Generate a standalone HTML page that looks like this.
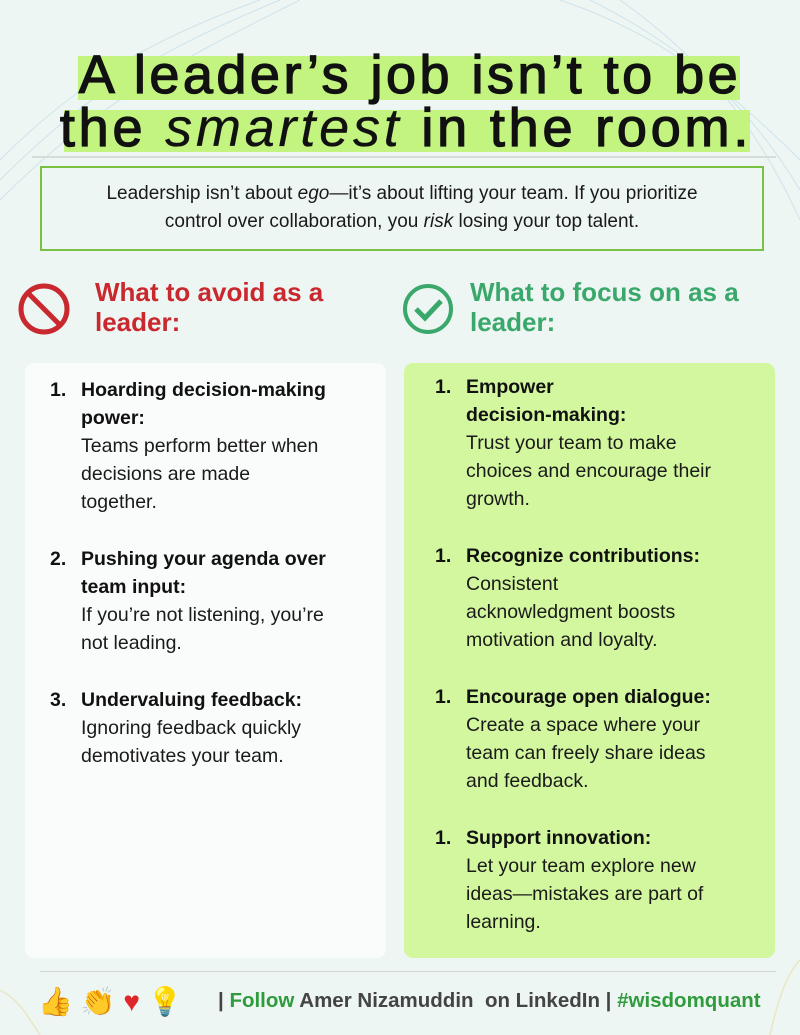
<!DOCTYPE html>
<html><head><meta charset="utf-8"><style>
*{margin:0;padding:0;box-sizing:border-box}
body{width:800px;height:1035px;background:#edf6f3;font-family:"Liberation Sans",sans-serif;position:relative;overflow:hidden;color:#111}
.a{position:absolute;white-space:nowrap}
.hl{position:absolute;background:#c3f47f}
.t{font-size:54px;font-weight:400;-webkit-text-stroke:1.3px #111;line-height:1}
.sum{font-size:19px;text-align:center;line-height:28px;color:#1a1a1a}
.h{font-size:26px;font-weight:bold;line-height:30px}
.panel{position:absolute;top:363px;height:595px;border-radius:9px}
.it{position:absolute;font-size:19.5px;line-height:28px;color:#1a1a1a}
.it b{font-weight:bold;color:#111}
.n{position:absolute;font-weight:bold;font-size:19.5px;line-height:28px}
</style></head><body>
<svg class="a" style="left:0;top:0" width="800" height="1035">
<g fill="none" stroke="#cfe3ec" stroke-width="1">
<path d="M0 160 C80 80 150 40 260 0"/><path d="M0 180 C90 90 160 50 280 0"/><path d="M0 200 C100 100 180 60 300 0"/>
<path d="M560 0 C650 30 720 80 800 160"/><path d="M590 0 C670 40 740 90 800 190"/><path d="M620 0 C690 50 750 110 800 220"/>
</g>
<g fill="none" stroke="#e9e6c4" stroke-width="1.5"><path d="M0 990 C20 1000 30 1020 40 1035"/><path d="M770 1035 C780 990 790 970 800 960"/></g>
</svg>
<div class="hl" style="left:78px;top:56px;width:662px;height:44px"></div>
<div class="hl" style="left:64px;top:110px;width:686px;height:42px"></div>
<div class="a t" style="left:0;width:800px;text-align:center;top:48px;padding-left:20px;letter-spacing:3.5px">A leader’s job isn’t to be</div>
<div class="a t" style="left:0;width:800px;text-align:center;top:101px;padding-left:12px;letter-spacing:3.8px">the <i style="-webkit-text-stroke:0.3px #111">smartest</i> in the room.</div>
<div class="a" style="left:32px;top:156px;width:744px;height:2px;background:#d6dcda"></div>
<div class="a sum" style="left:40px;top:166px;width:724px;height:85px;border:2px solid #79c142;padding-top:12px;white-space:normal">Leadership isn’t about <i>ego</i>—it’s about lifting your team. If you prioritize<br>control over collaboration, you <i>risk</i> losing your top talent.</div>

<svg class="a" style="left:15px;top:280px" width="58" height="58"><circle cx="29" cy="29" r="23" fill="none" stroke="#c8282e" stroke-width="5"/><line x1="13" y1="13" x2="45" y2="45" stroke="#c8282e" stroke-width="5"/></svg>
<div class="a h" style="left:95px;top:277px;color:#c8282e">What to avoid as a<br>leader:</div>
<svg class="a" style="left:400px;top:281px" width="56" height="56"><circle cx="28" cy="28" r="23" fill="none" stroke="#3aa86b" stroke-width="4"/><path d="M16 28 L25 37 L41 20" fill="none" stroke="#3aa86b" stroke-width="5"/></svg>
<div class="a h" style="left:470px;top:277px;color:#3aa86b">What to focus on as a<br>leader:</div>

<div class="panel" style="left:25px;width:361px;background:#fafcfb"></div>
<div class="panel" style="left:404px;width:371px;background:#d3f79e"></div>

<div class="n" style="left:50px;top:376px">1.</div>
<div class="it" style="left:81px;top:376px"><b>Hoarding decision-making<br>power:</b><br>Teams perform better when<br>decisions are made<br>together.</div>
<div class="n" style="left:50px;top:545px">2.</div>
<div class="it" style="left:81px;top:545px"><b>Pushing your agenda over<br>team input:</b><br>If you’re not listening, you’re<br>not leading.</div>
<div class="n" style="left:50px;top:686px">3.</div>
<div class="it" style="left:81px;top:686px"><b>Undervaluing feedback:</b><br>Ignoring feedback quickly<br>demotivates your team.</div>

<div class="n" style="left:435px;top:373px">1.</div>
<div class="it" style="left:466px;top:373px"><b>Empower<br>decision-making:</b><br>Trust your team to make<br>choices and encourage their<br>growth.</div>
<div class="n" style="left:435px;top:542px">1.</div>
<div class="it" style="left:466px;top:542px"><b>Recognize contributions:</b><br>Consistent<br>acknowledgment boosts<br>motivation and loyalty.</div>
<div class="n" style="left:435px;top:683px">1.</div>
<div class="it" style="left:466px;top:683px"><b>Encourage open dialogue:</b><br>Create a space where your<br>team can freely share ideas<br>and feedback.</div>
<div class="n" style="left:435px;top:824px">1.</div>
<div class="it" style="left:466px;top:824px"><b>Support innovation:</b><br>Let your team explore new<br>ideas—mistakes are part of<br>learning.</div>

<div class="a" style="left:40px;top:971px;width:736px;height:1px;background:#cfd6d3"></div>
<div class="a" style="left:38px;top:985px;font-size:28px;line-height:34px"><span style="color:#2a78c6">👍</span> <span style="color:#5aa83c">👏</span> <span style="color:#e0262b">♥</span> <span style="color:#f2cf5b">💡</span></div>
<div class="a" style="left:218px;top:989px;font-family:'Liberation Sans Narrow','Liberation Sans',sans-serif;font-weight:bold;font-size:20.5px;color:#444">| <span style="color:#2f9b3c">Follow</span> Amer Nizamuddin&nbsp; on LinkedIn | <span style="color:#2f9b3c">#wisdomquant</span></div>
</body></html>
